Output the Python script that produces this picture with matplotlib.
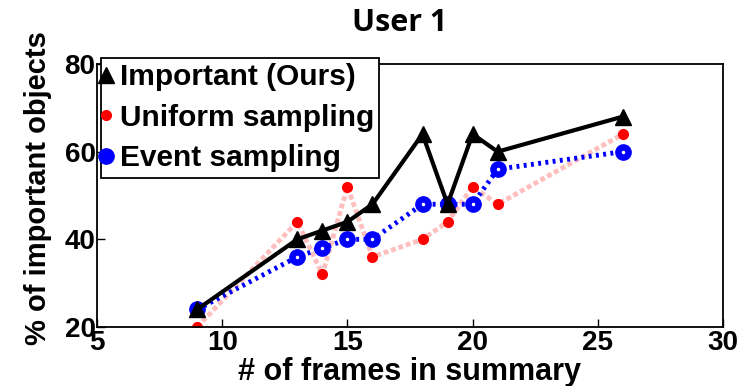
import matplotlib
matplotlib.use("Agg")
import matplotlib.pyplot as plt

frames = [9, 13, 14, 15, 16, 18, 19, 20, 21, 26]
important = [24, 40, 42, 44, 48, 64, 48, 64, 60, 68]
uniform = [20, 44, 32, 52, 36, 40, 44, 52, 48, 64]
event = [24, 36, 38, 40, 40, 48, 48, 48, 56, 60]

xticks = [5, 10, 15, 20, 25, 30]
yticks = [20, 40, 60, 80]

W, H = 740, 386
fig = plt.figure(figsize=(W / 100, H / 100), dpi=100)
ax = fig.add_axes([97 / W, 1 - 327 / H, (723 - 97) / W, (327 - 64) / H])

lab_font = dict(family="Liberation Sans", weight="bold")

ax.plot(frames, uniform, color=(1.0, 0.75, 0.75), lw=3.5, ls=(0, (1, 0.6)),
        marker="o", ms=7, mfc="red", mec="red", zorder=2,
        label="Uniform sampling")
ax.plot(frames, event, color="#0000ff", lw=3.5, ls=(0, (0.6, 0.9)),
        marker="o", ms=11, mfc="#0000ff", mec="#0000ff", zorder=3,
        label="Event sampling")
ax.plot(frames, event, ls="none", marker="o", ms=1.5, mfc="white",
        mec="white", zorder=3.5)
ax.plot(frames, important, color="black", lw=3, marker="^", ms=12,
        mfc="black", mec="black", zorder=4, label="Important (Ours)")

ax.set_xlim(5, 30)
ax.set_ylim(20, 80)
ax.set_xticks(xticks)
ax.set_yticks(yticks)
ax.tick_params(direction="in", length=6, width=1, top=False, right=False,
               labelsize=20)
ax.tick_params(axis="x", pad=2)
ax.tick_params(axis="y", pad=1)
for lbl in ax.get_xticklabels() + ax.get_yticklabels():
    lbl.set_fontfamily("Liberation Sans")
    lbl.set_fontweight("bold")
for s in ax.spines.values():
    s.set_linewidth(1.3)

ax.set_xlabel("# of frames in summary", fontsize=22, **lab_font)
ax.set_ylabel("% of important objects", fontsize=21, **lab_font)
ax.xaxis.set_label_coords((410 - 97) / (723 - 97), -(372 - 327) / (327 - 64))
ax.yaxis.set_label_coords(-(97 - 38) / (723 - 97), (327 - 188) / (327 - 64))
ax.xaxis.label.set_va("center")
ax.yaxis.label.set_va("center")

fig.text(400 / W, 1 - 23 / H, "User 1", ha="center", va="center",
         fontsize=22, family="Open Sans", weight="bold")

handles, labels = ax.get_legend_handles_labels()
order = [2, 0, 1]
leg = fig.legend([handles[i] for i in order], [labels[i] for i in order],
                 loc="upper left", bbox_to_anchor=(101 / W, 1 - 58 / H),
                 prop=dict(family="Liberation Sans", weight="bold", size=21.5),
                 handlelength=0.0, handletextpad=0.45, borderpad=0.18,
                 labelspacing=0.42, borderaxespad=0, fancybox=False,
                 framealpha=1, edgecolor="black")
leg.get_frame().set_linewidth(1.3)

fig.savefig("out.png", dpi=100)
